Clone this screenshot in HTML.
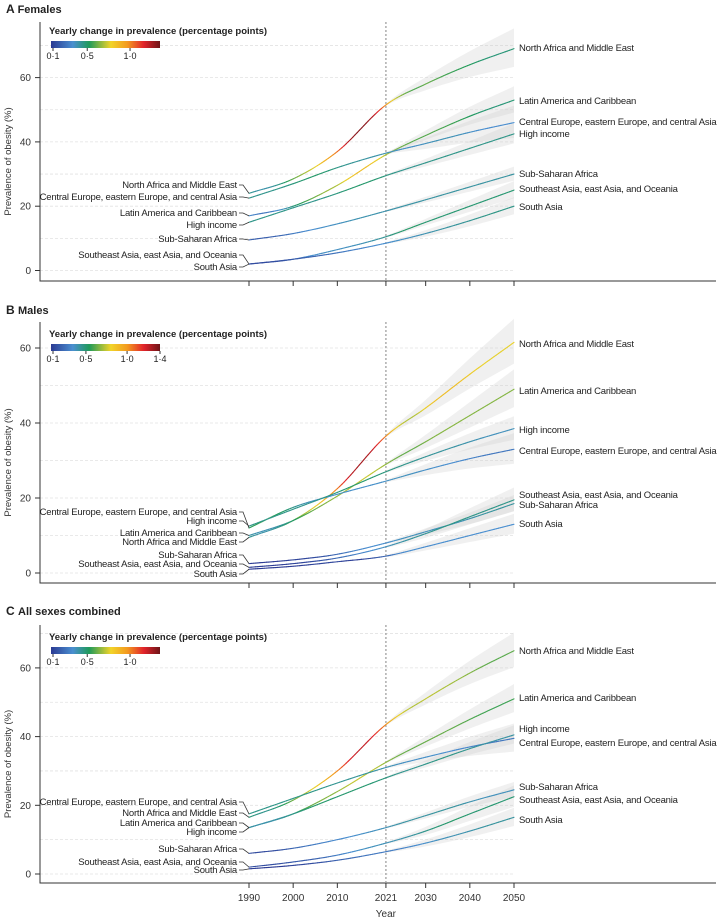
<!DOCTYPE html>
<html><head><meta charset="utf-8"><style>
body{margin:0;background:#fff;}
svg{display:block;font-family:"Liberation Sans",sans-serif;}
</style></head><body>
<svg id="chart" width="724" height="922" viewBox="0 0 724 922">
<defs>
<linearGradient id="cbar" x1="0" x2="1" y1="0" y2="0">
<stop offset="0" stop-color="#2b3a93"/><stop offset="0.2" stop-color="#4a8fd0"/><stop offset="0.35" stop-color="#1f9a5a"/><stop offset="0.55" stop-color="#f2d429"/><stop offset="0.7" stop-color="#f39a1f"/><stop offset="0.85" stop-color="#e2242b"/><stop offset="1" stop-color="#6e1418"/>
</linearGradient>
</defs>
<g id="root"></g>
</svg>
<script>
const years=[1990,2000,2010,2021,2030,2040,2050];
const regions=["North Africa and Middle East","Latin America and Caribbean","Central Europe, eastern Europe, and central Asia","High income","Sub-Saharan Africa","Southeast Asia, east Asia, and Oceania","South Asia"];
const femalesValues=[[24,28.5,37,51.5,58,64,69],[17,20,26.5,36,42,48,53],[22.5,27,32,36.5,39.5,43,46],[15,19.5,24,29.5,33.5,38,42.5],[9.5,11.5,14.5,18.5,22,26,30],[2,3.5,6.5,10.5,15,20,25],[2,3.5,5.5,8.5,11.5,15.5,20]];
const malesValues=[[9.5,14,22.5,36.5,44,53,61.5],[10,14,20.5,29,35,42,49],[12,17.5,21,24.5,27.5,30.5,33],[12.5,17,21.5,27,31,35,38.5],[2.5,3.5,5,8,11,14.5,18.5],[1.5,2.5,4,7,10.5,15,19.5],[1,1.8,3,4.5,7,10,13]];
const bothValues=[[16.5,21.5,30,43.5,51,58.5,65],[13.5,17.5,24,32.5,38.5,45,51],[17.5,22,26.5,31,34,37,39.5],[13.5,17.5,22.5,28,32,36.5,40.5],[6,7.5,10,13.5,17,21,24.5],[2,3.5,5.5,9,12.5,17.5,22.5],[1.5,2.5,4,6.5,9,12.5,16.5]];
const uncertainty2050=[[6,4,5,3,2,2.5,2.5],[6,5,4,3,2,3,2.5],[5,4,4,2.5,2,3,2.5]];
const yTicks=[0,20,40,60];
const xTicks=[1990,2000,2010,2021,2030,2040,2050];
const cbarTicksA=["0·1","0·5","1·0"];
const cbarTicksB=["0·1","0·5","1·0","1·4"];

const NS="http://www.w3.org/2000/svg";
const root=document.getElementById('root');
function mk(tag,attrs,parent,text){const e=document.createElementNS(NS,tag);for(const k in attrs)e.setAttribute(k,attrs[k]);if(text!==undefined)e.textContent=text;(parent||root).appendChild(e);return e;}
const xS=y=>249+(y-1990)*(514-249)/60;

const panels=[
{letter:"A",title:"Females",vals:femalesValues,zero:270.5,px20:64.3,top:22,axisY:281,titleY:13,legY:30,ticks:cbarTicksA,tickVals:[0.1,0.5,1.0],cmax:1.35,
 left:[188,200,216,228,242,258,270],leftOrder:[0,2,1,3,4,5,6],right:[48,101,122,134,174,189,207],rightOrder:[0,1,2,3,4,5,6]},
{letter:"B",title:"Males",vals:malesValues,zero:573,px20:75,top:322,axisY:583,titleY:314,legY:333,ticks:cbarTicksB,tickVals:[0.1,0.5,1.0,1.4],cmax:1.4,
 left:[515,524,536,545,558,567,577],leftOrder:[2,3,1,0,4,5,6],right:[344,391,430,451,495,505,524],rightOrder:[0,1,3,2,5,4,6]},
{letter:"C",title:"All sexes combined",vals:bothValues,zero:874,px20:68.7,top:625,axisY:883,titleY:615,legY:636,ticks:cbarTicksA,tickVals:[0.1,0.5,1.0],cmax:1.35,
 left:[805,816,826,835,852,865,873],leftOrder:[2,0,1,3,4,5,6],right:[651,698,729,743,787,800,820],rightOrder:[0,1,3,2,4,5,6]}
];
const stops=[[0.1,[43,58,147]],[0.3,[74,143,208]],[0.55,[31,154,90]],[0.85,[235,210,45]],[1.0,[243,160,31]],[1.25,[226,36,43]],[1.5,[110,20,24]]];
function col(v){if(v<=stops[0][0])return `rgb(${stops[0][1]})`;for(let i=1;i<stops.length;i++){if(v<=stops[i][0]){const a=stops[i-1],b=stops[i],t=(v-a[0])/(b[0]-a[0]);return `rgb(${a[1].map((c,j)=>Math.round(c+(b[1][j]-c)*t)).join(',')})`;}}return `rgb(${stops[stops.length-1][1]})`;}
function interp(xs,ys){const n=xs.length,d=[],m=[];for(let i=0;i<n-1;i++)d.push((ys[i+1]-ys[i])/(xs[i+1]-xs[i]));m[0]=d[0];m[n-1]=d[n-2];for(let i=1;i<n-1;i++)m[i]=d[i-1]*d[i]<=0?0:(d[i-1]+d[i])/2;
 return x=>{let i=0;while(i<n-2&&x>xs[i+1])i++;const h=xs[i+1]-xs[i],t=(x-xs[i])/h,t2=t*t,t3=t2*t;return (2*t3-3*t2+1)*ys[i]+(t3-2*t2+t)*h*m[i]+(-2*t3+3*t2)*ys[i+1]+(t3-t2)*h*m[i+1];};}

panels.forEach((P,pi)=>{
 const g=mk('g',{});
 
 
 const yS=v=>P.zero-v*P.px20/20;
 const t=mk('text',{x:6,y:P.titleY,'font-size':11,'font-weight':'bold',fill:'#222'},g);
 
 
 mk('tspan',{'font-size':12},t,P.letter+"  ");mk('tspan',{},t,P.title);
 for(let v=0;v<=70;v+=10){const y=yS(v);if(y<P.top+5)continue;const l=mk('line',{x1:40,x2:514,y1:y,y2:y,stroke:'#e2e2e2','stroke-width':0.8,'stroke-dasharray':'3,2'},g);
  }
 const ax=mk('path',{d:`M40 ${P.top} V${P.axisY} H716`,stroke:'#333',fill:'none','stroke-width':1},g);
 
 yTicks.forEach(v=>{const y=yS(v);mk('line',{x1:35,x2:40,y1:y,y2:y,stroke:'#333'},g);
  const tl=mk('text',{x:31,y:y+3.5,'font-size':10,'text-anchor':'end',fill:'#333'},g,v);
  });
 xTicks.forEach(yr=>{mk('line',{x1:xS(yr),x2:xS(yr),y1:P.axisY,y2:P.axisY+5,stroke:'#333'},g);
  if(pi===2){const tl=mk('text',{x:xS(yr),y:901,'font-size':10,'text-anchor':'middle',fill:'#333'},g,yr);
   }});
 const yt=mk('text',{transform:`translate(11,${(P.top+P.axisY)/2+10}) rotate(-90)`,'font-size':9.5,'text-anchor':'middle',fill:'#333'},g,'Prevalence of obesity (%)');
 
 const vl=mk('line',{x1:xS(2021),x2:xS(2021),y1:P.top,y2:P.axisY,stroke:'#999','stroke-width':1.2,'stroke-dasharray':'2,2'},g);
 
 P.vals.forEach((vals,si)=>{const f=interp(years,vals);const u=uncertainty2050[pi][si];let up=[],dn=[];
  for(let yr=2021;yr<=2050;yr+=1){const w=u*(yr-2021)/29+0.3;up.push(xS(yr)+','+yS(f(yr)+w));dn.unshift(xS(yr)+','+yS(f(yr)-w*0.9));}
  const b=mk('polygon',{points:up.concat(dn).join(' '),fill:'#ccc','fill-opacity':0.3},g);
  });
 P.vals.forEach((vals,si)=>{const f=interp(years,vals);const sg=mk('g',{'stroke-width':1.1,fill:'none'},g);
  
  for(let yr=1990;yr<2050;yr+=0.5){const a=f(yr),b=f(yr+0.5);const s=(b-a)/0.5;
   mk('line',{x1:xS(yr),y1:yS(a),x2:xS(yr+0.5),y2:yS(b),stroke:col(s),'stroke-linecap':'round'},sg);}});
 P.leftOrder.forEach((si,k)=>{const ly=P.left[k];const vy=yS(P.vals[si][0]);
  mk('path',{d:`M239 ${ly-3} L243 ${ly-3} L249 ${vy}`,stroke:'#333',fill:'none','stroke-width':0.8},g);
  const tl=mk('text',{x:237,y:ly,'font-size':9.5,'text-anchor':'end',fill:'#222','letter-spacing':'-0.2'},g,regions[si]);
  });
 P.rightOrder.forEach((si,k)=>{const tl=mk('text',{x:519,y:P.right[k]+3,'font-size':9.5,fill:'#222','letter-spacing':'-0.2'},g,regions[si]);
  });
 const lg=mk('g',{},g);
 mk('text',{x:49,y:P.legY+4,'font-size':9.5,'font-weight':'bold',fill:'#222'},lg,'Yearly change in prevalence (percentage points)');
 mk('rect',{x:51,y:P.legY+11,width:109,height:7,fill:'url(#cbar)'},lg);
 P.tickVals.forEach((v,k)=>{const x=53+(v-0.1)/(P.cmax-0.1)*107;mk('line',{x1:x,x2:x,y1:P.legY+18,y2:P.legY+21,stroke:'#333'},lg);
  mk('text',{x:x,y:P.legY+29,'font-size':9,'text-anchor':'middle',fill:'#222'},lg,P.ticks[k]);});
});
const xt=mk('text',{x:xS(2021),y:917,'font-size':10,'text-anchor':'middle',fill:'#333'},root,'Year');


</script>
</body></html>
